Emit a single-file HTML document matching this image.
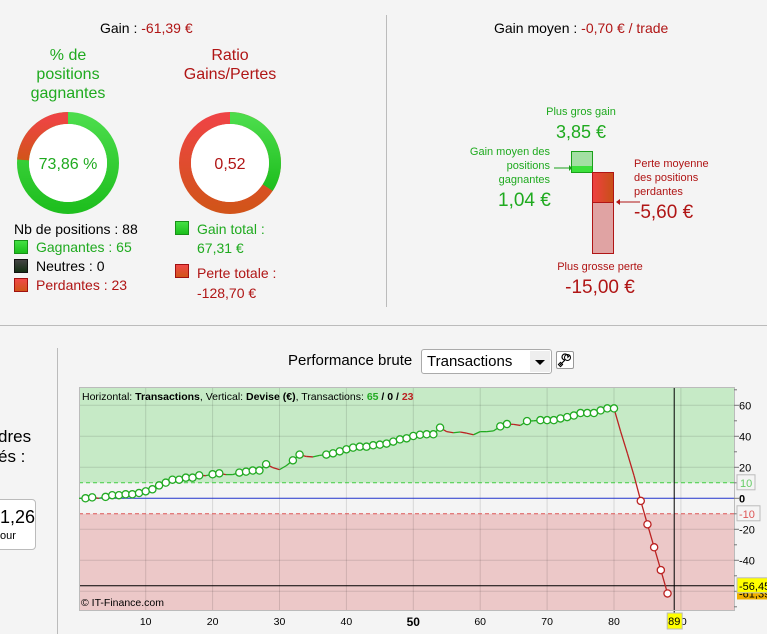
<!DOCTYPE html>
<html><head><meta charset="utf-8">
<style>
body{margin:0;width:767px;height:634px;overflow:hidden;background:#f4f4f4;font-family:"Liberation Sans",Arial,sans-serif;position:relative}
.a{position:absolute;white-space:nowrap}
.g{color:#1faa1f}.r{color:#b01515}
.sq{position:absolute;width:14px;height:14px;box-sizing:border-box}
</style></head><body>
<div class="a" style="left:0;top:325px;width:767px;height:1px;background:#bbb"></div>
<div class="a" style="left:386px;top:15px;width:1px;height:292px;background:#bbb"></div>
<div class="a" style="left:57px;top:348px;width:1px;height:286px;background:#bbb"></div>

<div class="a" style="left:100px;top:20px;font-size:14px">Gain : <span class="r">-61,39 €</span></div>
<div class="a g" style="left:8px;top:46px;width:120px;text-align:center;font-size:16px;line-height:19px;white-space:normal">% de<br>positions<br>gagnantes</div>
<div class="a r" style="left:170px;top:46px;width:120px;text-align:center;font-size:16px;line-height:19px;white-space:normal">Ratio<br>Gains/Pertes</div>

<svg class="a" style="left:0;top:0" width="386" height="320">
<defs>
<linearGradient id="gg" x1="0" y1="0" x2="0" y2="1"><stop offset="0" stop-color="#4bdc4b"/><stop offset="1" stop-color="#1fbf1f"/></linearGradient>
<linearGradient id="rg" x1="0" y1="0" x2="0" y2="1"><stop offset="0" stop-color="#ee4444"/><stop offset="1" stop-color="#d2541a"/></linearGradient>
</defs>
<g>
<circle cx="68" cy="163" r="45" fill="none" stroke="url(#gg)" stroke-width="12"/>
<path d="M68 118 A45 45 0 0 0 23.1 159.9" fill="none" stroke="url(#rg)" stroke-width="12"/>
<circle cx="68" cy="163" r="39" fill="#fff"/>
<text x="68" y="169" text-anchor="middle" font-size="16" fill="#1faa1f" font-family="Liberation Sans">73,86 %</text>
</g>
<g>
<circle cx="230" cy="163" r="45" fill="none" stroke="url(#rg)" stroke-width="12"/>
<path d="M230 118 A45 45 0 0 1 267.7 187.6" fill="none" stroke="url(#gg)" stroke-width="12"/>
<circle cx="230" cy="163" r="39" fill="#fff"/>
<text x="230" y="169" text-anchor="middle" font-size="16" fill="#b01515" font-family="Liberation Sans">0,52</text>
</g>
</svg>

<div class="a" style="left:14px;top:221px;font-size:14px">Nb de positions : 88</div>
<div class="sq" style="left:14px;top:240px;background:linear-gradient(#44e044,#1cbf1c);border:1px solid #189018"></div>
<div class="a g" style="left:36px;top:239px;font-size:14px">Gagnantes : 65</div>
<div class="sq" style="left:14px;top:259px;background:linear-gradient(#444,#143014);border:1px solid #111"></div>
<div class="a" style="left:36px;top:258px;font-size:14px">Neutres : 0</div>
<div class="sq" style="left:14px;top:278px;background:linear-gradient(#f04848,#d05418);border:1px solid #a01010"></div>
<div class="a r" style="left:36px;top:277px;font-size:14px">Perdantes : 23</div>
<div class="sq" style="left:175px;top:221px;background:linear-gradient(#44e044,#1cbf1c);border:1px solid #189018"></div>
<div class="a g" style="left:197px;top:220px;font-size:14px;line-height:19px">Gain total :<br>67,31 €</div>
<div class="sq" style="left:175px;top:264px;background:linear-gradient(#f04848,#d05418);border:1px solid #a01010"></div>
<div class="a r" style="left:197px;top:263px;font-size:14px;line-height:20px">Perte totale :<br>-128,70 €</div>

<div class="a" style="left:494px;top:20px;font-size:14px">Gain moyen : <span class="r">-0,70 € / trade</span></div>
<div class="a g" style="left:531px;top:106px;width:100px;text-align:center;font-size:11px">Plus gros gain</div>
<div class="a g" style="left:531px;top:122px;width:100px;text-align:center;font-size:18px">3,85 €</div>
<div class="a g" style="left:450px;top:145px;width:100px;text-align:right;font-size:11px;line-height:14px">Gain moyen des<br>positions<br>gagnantes</div>
<div class="a g" style="left:498px;top:190px;font-size:19px">1,04 €</div>
<div class="a r" style="left:634px;top:157px;font-size:11px;line-height:14px">Perte moyenne<br>des positions<br>perdantes</div>
<div class="a r" style="left:634px;top:202px;font-size:19px">-5,60 €</div>
<div class="a r" style="left:540px;top:261px;width:120px;text-align:center;font-size:11px">Plus grosse perte</div>
<div class="a r" style="left:540px;top:277px;width:120px;text-align:center;font-size:19px">-15,00 €</div>
<svg class="a" style="left:540px;top:145px" width="110" height="115">
<defs><linearGradient id="rh" x1="0" x2="1"><stop offset="0" stop-color="#ee4040"/><stop offset="1" stop-color="#c85018"/></linearGradient></defs>
<rect x="31.5" y="6.5" width="21" height="21" fill="#a3e0a3" stroke="#1aa01a"/>
<rect x="32" y="21" width="20" height="6" fill="#3ce03c"/>
<rect x="52.5" y="27.5" width="21" height="81" fill="#e0a3a3" stroke="#b01515"/>
<rect x="53" y="28" width="20" height="29" fill="url(#rh)"/>
<line x1="53" y1="57.5" x2="73" y2="57.5" stroke="#b01515"/>
<line x1="14" y1="23" x2="29" y2="23" stroke="#1aa01a"/><path d="M29 20 L32 23 L29 26Z" fill="#1aa01a"/>
<line x1="79" y1="57" x2="100" y2="57" stroke="#b01515"/><path d="M80 54 L76 57 L80 60Z" fill="#b01515"/>
</svg>

<div class="a" style="left:-2px;top:427px;font-size:17px;line-height:20px">dres<br>és :</div>
<div class="a" style="left:-12px;top:499px;width:46px;height:49px;border:1px solid #bbb;border-radius:4px;background:#fff"></div>
<div class="a" style="left:0;top:507px;font-size:18px">1,26</div>
<div class="a" style="left:0;top:530px;font-size:11px">our</div>

<div class="a" style="left:288px;top:352px;font-size:15px">Performance brute</div>
<div class="a" style="left:421px;top:349px;width:131px;height:25px;border:1px solid #aaa;border-radius:3px;background:#fff;box-sizing:border-box">
<span class="a" style="left:5px;top:3px;font-size:15px">Transactions</span>
<span class="a" style="right:1px;top:1px;width:20px;height:21px;background:#eee"></span>
<span class="a" style="right:6px;top:10px;border-left:5px solid transparent;border-right:5px solid transparent;border-top:5px solid #000;width:0;height:0"></span>
</div>
<div class="a" style="left:556px;top:351px;width:18px;height:18px;border:1px solid #999;border-radius:2px;background:#fff;box-sizing:border-box">
<svg width="16" height="16" style="position:absolute;left:0;top:0"><path d="M3 13 L8 8 M8 8 A3 3 0 1 1 11 5 L13 3 M8 8 L5 11" stroke="#000" stroke-width="1.2" fill="none"/><circle cx="10.5" cy="5.5" r="3" fill="none" stroke="#000"/><rect x="2" y="11" width="3" height="3" fill="none" stroke="#000" transform="rotate(45 3.5 12.5)"/></svg>
</div>

<svg class="a" id="chart" style="left:0;top:0" width="767" height="634"></svg>

<script>
const tradeIndex=[1,2,3,4,5,6,7,8,9,10,11,12,13,14,15,16,17,18,19,20,21,22,23,24,25,26,27,28,29,30,31,32,33,34,35,36,37,38,39,40,41,42,43,44,45,46,47,48,49,50,51,52,53,54,55,56,57,58,59,60,61,62,63,64,65,66,67,68,69,70,71,72,73,74,75,76,77,78,79,80,81,82,83,84,85,86,87,88];
const equity=[0,0.6,0,0.9,2,2,2.6,2.6,3.4,4.5,5.8,8.3,10.1,12,12,13.3,13.3,14.8,14.6,15.5,16.1,15.3,15.3,16.6,17.2,17.9,17.9,22,19.8,18.5,21,24.5,28.2,27,26.7,27.7,28.2,29,30.3,31.6,32.7,33.3,33.3,34.2,34.6,35.3,36.6,38,38.7,40.2,41,41.3,41.3,45.6,43,42.3,42.8,42,41,43,43,43.5,46.4,47.9,47.7,47,49.8,50,50.4,50.4,50.4,51.5,52.4,53.4,55,55,55,56.7,58,58,43,29,14.5,-1.7,-16.8,-31.6,-46.3,-61.39];
const marked=[1,1,0,1,1,1,1,1,1,1,1,1,1,1,1,1,1,1,0,1,1,0,0,1,1,1,1,1,0,0,0,1,1,0,0,0,1,1,1,1,1,1,1,1,1,1,1,1,1,1,1,1,1,1,0,0,0,0,0,0,0,0,1,1,0,0,1,0,1,1,1,1,1,1,1,1,1,1,1,1,0,0,0,1,1,1,1,1];
const xTicks=[10,20,30,40,50,60,70,80,90];
const yTicks=[60,40,20,0,-20,-40];
const gridY=[60,40,20,-20,-40,-60];
const upperBand=10, lowerBand=-10, cursorTrade=89, cursorValue=-56.45, lastValue=-61.39;

const svg=document.getElementById('chart');
const NS='http://www.w3.org/2000/svg';
const L=79,R=734,T=387,B=610;
const X=n=>145.7+(n-10)*6.69;
const Y=v=>498.3-v*1.55;
function mk(tag,at,parent){const e=document.createElementNS(NS,tag);for(const k in at)e.setAttribute(k,at[k]);(parent||svg).appendChild(e);return e;}

let e;
e=mk('rect',{x:L,y:T,width:R-L,height:Y(upperBand)-T,fill:'#c6eac6'});


e=mk('rect',{x:L,y:Y(upperBand),width:R-L,height:Y(lowerBand)-Y(upperBand),fill:'#f4f4f4'});


e=mk('rect',{x:L,y:Y(lowerBand),width:R-L,height:B-Y(lowerBand),fill:'#ecc8c8'});


gridY.forEach(v=>{e=mk('line',{x1:L,x2:R,y1:Y(v),y2:Y(v),stroke:'rgba(0,0,0,0.12)'});

});
xTicks.forEach(v=>{if(X(v)<R){e=mk('line',{x1:X(v),x2:X(v),y1:T,y2:B,stroke:'rgba(0,0,0,0.12)'});

}});
e=mk('line',{x1:L,x2:R,y1:Y(upperBand),y2:Y(upperBand),stroke:'#44cc44','stroke-dasharray':'4 3'});


e=mk('line',{x1:L,x2:R,y1:Y(lowerBand),y2:Y(lowerBand),stroke:'#dd5555','stroke-dasharray':'4 3'});


e=mk('line',{x1:L,x2:R,y1:Y(0),y2:Y(0),stroke:'#2233cc'});


e=mk('line',{x1:L,x2:R,y1:Y(cursorValue),y2:Y(cursorValue),stroke:'#000'});


e=mk('line',{x1:X(cursorTrade),x2:X(cursorTrade),y1:T,y2:628,stroke:'#000'});


e=mk('rect',{x:L+0.5,y:T+0.5,width:R-L,height:B-T,fill:'none',stroke:'#bbb'});



e=mk('line',{x1:L,x2:X(tradeIndex[0]),y1:Y(0),y2:Y(equity[0]),stroke:'#22aa22','stroke-width':1.3});


for(let i=1;i<equity.length;i++){
  e=mk('line',{x1:X(tradeIndex[i-1]),y1:Y(equity[i-1]),x2:X(tradeIndex[i]),y2:Y(equity[i]),stroke:equity[i]>=equity[i-1]?'#22aa22':'#bb2222','stroke-width':1.3});
  
  
}
for(let i=0;i<equity.length;i++){
  if(!marked[i])continue;
  const up=i==0||equity[i]>=equity[i-1];
  e=mk('circle',{cx:X(tradeIndex[i]),cy:Y(equity[i]),r:3.6,fill:'#fff',stroke:up?'#22aa22':'#bb2222','stroke-width':1.3});
  
  
}
const hdr=mk('text',{x:L+3,y:400,'font-size':10.5,'font-family':'Liberation Sans'});


hdr.innerHTML='Horizontal: <tspan font-weight="bold">Transactions</tspan>, Vertical: <tspan font-weight="bold">Devise (€)</tspan>, Transactions: <tspan font-weight="bold" fill="#22aa22">65</tspan><tspan font-weight="bold"> / 0 / </tspan><tspan font-weight="bold" fill="#bb2222">23</tspan>';
e=mk('text',{x:L+2,y:606,'font-size':10.5,'font-family':'Liberation Sans'});


e.textContent='© IT-Finance.com';
for(let v=-70;v<=70;v+=10){e=mk('line',{x1:R,x2:R+(v%20==0?5:3),y1:Y(v),y2:Y(v),stroke:'#777'});

}
yTicks.forEach(v=>{e=mk('text',{x:R+5,y:Y(v)+4,'font-size':11,'font-family':'Liberation Sans','font-weight':v==0?'bold':'normal'});


e.textContent=v;});
e=mk('rect',{x:R+3,y:Y(upperBand)-8,width:18,height:15,fill:'#f4f4f4',stroke:'#bbb'});


e=mk('text',{x:R+6,y:Y(upperBand)+4,'font-size':11,fill:'#66cc66','font-family':'Liberation Sans'});


e.textContent=upperBand;
e=mk('rect',{x:R+3,y:Y(lowerBand)-8,width:23,height:15,fill:'#f4f4f4',stroke:'#bbb'});


e=mk('text',{x:R+5,y:Y(lowerBand)+4,'font-size':11,fill:'#dd5555','font-family':'Liberation Sans'});


e.textContent=lowerBand;
e=mk('rect',{x:R+3,y:Y(lastValue)-7,width:40,height:13,fill:'#f0b000'});


e=mk('text',{x:R+5,y:Y(lastValue)+4,'font-size':11,'font-family':'Liberation Sans'});


e.textContent=lastValue.toFixed(2).replace('.',',');
e=mk('rect',{x:R+3,y:Y(cursorValue)-8,width:40,height:15,fill:'#ffff00',stroke:'#bbb'});


e=mk('text',{x:R+5,y:Y(cursorValue)+4,'font-size':11,'font-family':'Liberation Sans'});


e.textContent=cursorValue.toFixed(2).replace('.',',');
xTicks.forEach(v=>{e=mk('text',{x:X(v),y:v==50?626:625,'text-anchor':'middle','font-size':v==50?12:10.5,'font-weight':v==50?'bold':'normal','font-family':'Liberation Sans'});


e.textContent=v;});
e=mk('rect',{x:X(cursorTrade)-7,y:613,width:15,height:16,fill:'#ffff00',stroke:'#bbb'});


e=mk('text',{x:X(cursorTrade),y:625,'text-anchor':'middle','font-size':11,'font-family':'Liberation Sans'});


e.textContent=cursorTrade;
</script>
</body></html>
